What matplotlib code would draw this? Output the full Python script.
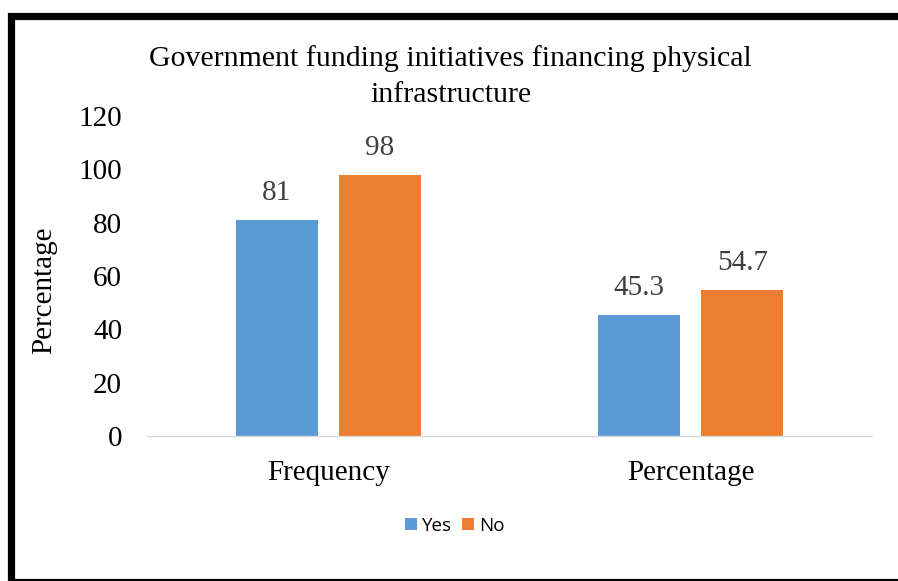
import numpy as np
import matplotlib.pyplot as plt
from matplotlib.patches import Rectangle

# ---------- data ----------
categories = ["Frequency", "Percentage"]
yes_vals   = [81, 45.3]
no_vals    = [98, 54.7]
yes_labels = ["81", "45.3"]
no_labels  = ["98", "54.7"]
series     = ["Yes", "No"]
yticks     = [0, 20, 40, 60, 80, 100, 120]

BLUE   = "#5B9BD5"
ORANGE = "#ED7D31"
SERIF  = ["Liberation Serif", "DejaVu Serif"]

fig = plt.figure(figsize=(8.98, 5.81), dpi=100)
ax = fig.add_axes([0.1637, 0.2496, 0.8073, 0.5507])

x = np.arange(len(categories))
w, off = 0.226, 0.142
b1 = ax.bar(x - off, yes_vals, w, color=BLUE, label=series[0])
b2 = ax.bar(x + off, no_vals, w, color=ORANGE, label=series[1])

# value labels above bars
for bars, labs in ((b1, yes_labels), (b2, no_labels)):
    for b, t in zip(bars, labs):
        ax.annotate(t, (b.get_x() + b.get_width() / 2, b.get_height()),
                    xytext=(0, 10), textcoords="offset points",
                    ha="center", va="bottom", fontsize=21,
                    family=SERIF, color="#404040")

ax.set_xlim(-0.5, 1.5)
ax.set_ylim(0, 120)
ax.set_yticks(yticks)
ax.set_xticks(x)
ax.set_xticklabels(categories)
for lab in ax.get_yticklabels() + ax.get_xticklabels():
    lab.set_family(SERIF)
    lab.set_fontsize(21)
ax.tick_params(axis="both", length=0)
ax.tick_params(axis="y", pad=18)
ax.tick_params(axis="x", pad=17)
for s in ("top", "right", "left"):
    ax.spines[s].set_visible(False)
ax.spines["bottom"].set_color("#D9D9D9")
ax.spines["bottom"].set_linewidth(1)

ax.set_ylabel("Percentage", family=SERIF, fontsize=21, labelpad=15)
ax.yaxis.label.set_y(0.456)

fig.text(0.502, 0.869, "Government funding initiatives financing physical\ninfrastructure",
         ha="center", va="center", family=SERIF, fontsize=21.5, linespacing=1.5)

fig.legend(handles=[b1, b2], labels=series, loc="center",
           bbox_to_anchor=(0.506, 0.095), ncol=2, frameon=False,
           prop={"family": "Open Sans", "size": 13.5},
           handlelength=0.65, handleheight=0.65, handletextpad=0.25,
           columnspacing=0.55)

# black frame round the chart (right side runs off the picture)
fig.patches.append(Rectangle((10.5 / 898, 1 - 582 / 581), 920 / 898, 566.5 / 581,
                             transform=fig.transFigure, fill=False,
                             edgecolor="black", linewidth=5.2))

fig.savefig("out.png", dpi=100)
